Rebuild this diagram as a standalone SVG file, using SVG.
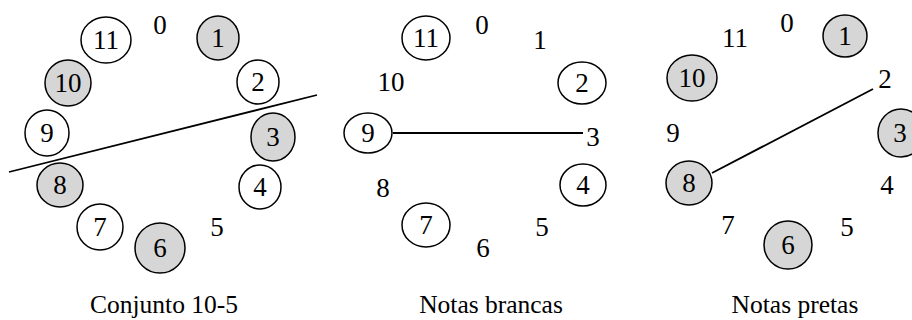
<svg xmlns="http://www.w3.org/2000/svg" width="912" height="320" viewBox="0 0 912 320">
<style>
.n{fill:#fff;stroke:#000;stroke-width:1.5}
.g{fill:#d6d6d6;stroke:#000;stroke-width:1.5}
text{font-family:"Liberation Serif",serif;font-size:27px;text-anchor:middle;fill:#000}
.lbl{font-size:25.5px}
.ln{stroke:#000;stroke-width:1.8;fill:none}
</style>
<rect width="912" height="320" fill="#fff"/>
<g id="clock1">
<g id="c1-0"><text x="160" y="34">0</text></g>
<g id="c1-11"><ellipse class="n" cx="106" cy="40" rx="25" ry="23"/><text x="106" y="49">11</text></g>
<g id="c1-1"><ellipse class="g" cx="218" cy="38" rx="21" ry="22"/><text x="218" y="47">1</text></g>
<g id="c1-10"><ellipse class="g" cx="68" cy="83" rx="23" ry="23"/><text x="68" y="92">10</text></g>
<g id="c1-2"><ellipse class="n" cx="258" cy="82" rx="21" ry="22"/><text x="258" y="91">2</text></g>
<g id="c1-9"><ellipse class="n" cx="47" cy="133" rx="22" ry="23"/><text x="47" y="142">9</text></g>
<g id="c1-3"><ellipse class="g" cx="273" cy="137" rx="22" ry="24"/><text x="273" y="146">3</text></g>
<g id="c1-8"><ellipse class="g" cx="60" cy="185" rx="23" ry="22"/><text x="60" y="194">8</text></g>
<g id="c1-4"><ellipse class="n" cx="260" cy="187" rx="21" ry="22"/><text x="260" y="196">4</text></g>
<g id="c1-7"><ellipse class="n" cx="100" cy="227" rx="23" ry="23"/><text x="100" y="236">7</text></g>
<g id="c1-6"><ellipse class="g" cx="160" cy="248" rx="25" ry="25"/><text x="160" y="257">6</text></g>
<g id="c1-5"><text x="217" y="236">5</text></g>
<text class="lbl" x="164" y="313">Conjunto 10-5</text>
</g>
<g id="clock2">
<g id="c2-0"><text x="482" y="34">0</text></g>
<g id="c2-11"><ellipse class="n" cx="426" cy="38" rx="24" ry="22"/><text x="426" y="47">11</text></g>
<g id="c2-1"><text x="540" y="49">1</text></g>
<g id="c2-10"><text x="391" y="91">10</text></g>
<g id="c2-2"><ellipse class="n" cx="582" cy="83" rx="24" ry="21"/><text x="582" y="92">2</text></g>
<g id="c2-9"><ellipse class="n" cx="368" cy="133" rx="24" ry="20"/><text x="368" y="142">9</text></g>
<g id="c2-3"><text x="593" y="146">3</text></g>
<g id="c2-8"><text x="383" y="197">8</text></g>
<g id="c2-4"><ellipse class="n" cx="583" cy="185" rx="23" ry="21"/><text x="583" y="194">4</text></g>
<g id="c2-7"><ellipse class="n" cx="426" cy="225" rx="24" ry="22"/><text x="426" y="234">7</text></g>
<g id="c2-5"><text x="542" y="236">5</text></g>
<g id="c2-6"><text x="483" y="257">6</text></g>
<text class="lbl" x="491" y="313">Notas brancas</text>
</g>
<g id="clock3">
<g id="c3-0"><text x="787" y="32">0</text></g>
<g id="c3-11"><text x="735" y="47">11</text></g>
<g id="c3-1"><ellipse class="g" cx="845" cy="36" rx="22" ry="21"/><text x="845" y="45">1</text></g>
<g id="c3-10"><ellipse class="g" cx="692" cy="78" rx="25" ry="23"/><text x="692" y="87">10</text></g>
<g id="c3-2"><text x="885" y="88">2</text></g>
<g id="c3-3"><ellipse class="g" cx="901" cy="133" rx="23" ry="24"/><text x="900" y="142">3</text></g>
<g id="c3-9"><text x="673" y="142">9</text></g>
<g id="c3-8"><ellipse class="g" cx="689" cy="183" rx="23" ry="22"/><text x="689" y="192">8</text></g>
<g id="c3-4"><text x="887" y="194">4</text></g>
<g id="c3-7"><text x="728" y="234">7</text></g>
<g id="c3-5"><text x="847" y="236">5</text></g>
<g id="c3-6"><ellipse class="g" cx="788" cy="245" rx="24" ry="24"/><text x="788" y="254">6</text></g>
<text class="lbl" x="795" y="313">Notas pretas</text>
</g>
<g id="connectors">
<line class="ln" x1="9" y1="172" x2="317" y2="95"/>
<line class="ln" x1="393" y1="133" x2="583" y2="133"/>
<line class="ln" x1="712" y1="173" x2="873" y2="89"/>
</g>
</svg>
